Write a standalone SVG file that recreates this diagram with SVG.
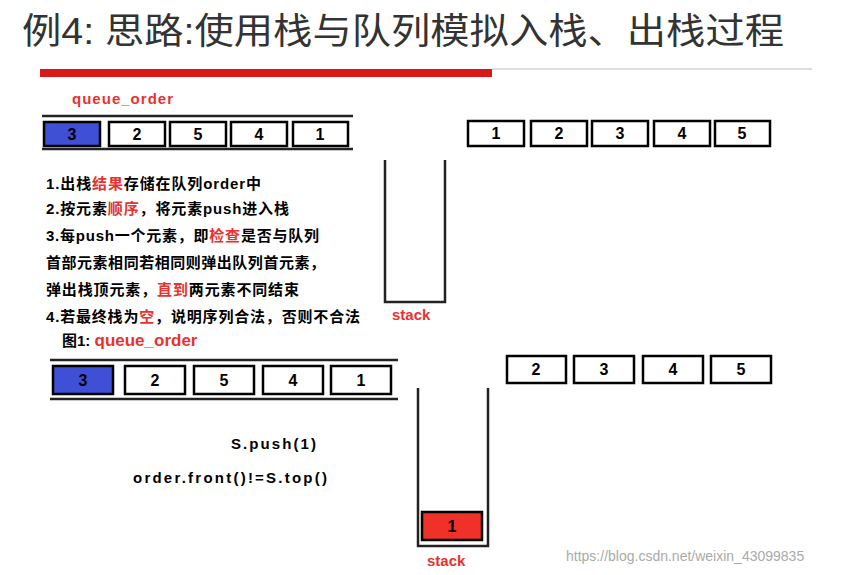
<svg xmlns="http://www.w3.org/2000/svg" width="852" height="575" viewBox="0 0 852 575">
<style>
.b{fill:#fff;stroke:#000;stroke-width:2.5}
.bl{fill:#3f4fd6;stroke:#000;stroke-width:2.5}
.rd{fill:#f0312a;stroke:#000;stroke-width:2.5}
.n{font-family:"Liberation Sans","Noto Sans CJK SC",sans-serif;font-weight:bold;font-size:16px;text-anchor:middle}
.t{font-family:"Liberation Sans","Noto Sans CJK SC",sans-serif;font-weight:bold;font-size:15px}
.r{fill:#e8322f}
.ln{stroke:#222;stroke-width:2.5;fill:none}
</style>
<rect width="852" height="575" fill="#fff"/>
<text x="22" y="44" font-family="Liberation Sans,Noto Sans CJK SC,sans-serif" font-size="36" fill="#333" textLength="762" lengthAdjust="spacingAndGlyphs">例4: 思路:使用栈与队列模拟入栈、出栈过程</text>
<rect x="40" y="69" width="452" height="8" fill="#d9181a"/>
<line x1="492" y1="69" x2="812" y2="69" stroke="#bbb" stroke-width="1"/>
<text x="72" y="104" class="t r" textLength="101">queue_order</text>
<g id="queue1">
<line class="ln" x1="42" y1="116" x2="353" y2="116"/><line class="ln" x1="42" y1="149" x2="353" y2="149"/>
<rect class="bl" x="44" y="122" width="56" height="24"/><text class="n" x="72" y="140">3</text>
<rect class="b" x="109" y="122" width="56" height="24"/><text class="n" x="137" y="140">2</text>
<rect class="b" x="170" y="122" width="56" height="24"/><text class="n" x="198" y="140">5</text>
<rect class="b" x="231" y="122" width="56" height="24"/><text class="n" x="259" y="140">4</text>
<rect class="b" x="293" y="122" width="55" height="24"/><text class="n" x="320" y="140">1</text>
</g>
<g id="stack1"><path class="ln" d="M385 160V302H445V160"/><text class="t r" x="392" y="320">stack</text></g>
<g id="input1">
<rect class="b" x="468" y="121" width="56" height="25"/><text class="n" x="496" y="139">1</text>
<rect class="b" x="531" y="121" width="56" height="25"/><text class="n" x="559" y="139">2</text>
<rect class="b" x="592" y="121" width="56" height="25"/><text class="n" x="620" y="139">3</text>
<rect class="b" x="654" y="121" width="56" height="25"/><text class="n" x="682" y="139">4</text>
<rect class="b" x="715" y="121" width="55" height="25"/><text class="n" x="742" y="139">5</text>
</g>
<g id="notes" class="t" font-size="16">
<text x="46" y="189" textLength="215">1.出栈<tspan class="r">结果</tspan>存储在队列order中</text>
<text x="46" y="214" textLength="243">2.按元素<tspan class="r">顺序</tspan>，将元素push进入栈</text>
<text x="46" y="241" textLength="273">3.每push一个元素，即<tspan class="r">检查</tspan>是否与队列</text>
<text x="46" y="268" textLength="279">首部元素相同若相同则弹出队列首元素，</text>
<text x="46" y="295" textLength="253">弹出栈顶元素，<tspan class="r">直到</tspan>两元素不同结束</text>
<text x="46" y="322" textLength="314">4.若最终栈为<tspan class="r">空</tspan>，说明序列合法，否则不合法</text>
</g>
<text class="t" x="62" y="346">图1: <tspan class="r" font-size="17">queue_order</tspan></text>
<g id="queue2">
<line class="ln" x1="50" y1="360" x2="398" y2="360"/><line class="ln" x1="50" y1="399" x2="398" y2="399"/>
<rect class="bl" x="53" y="366" width="60" height="28"/><text class="n" x="83" y="386">3</text>
<rect class="b" x="125" y="366" width="60" height="28"/><text class="n" x="155" y="386">2</text>
<rect class="b" x="194" y="366" width="60" height="28"/><text class="n" x="224" y="386">5</text>
<rect class="b" x="263" y="366" width="60" height="28"/><text class="n" x="293" y="386">4</text>
<rect class="b" x="331" y="366" width="60" height="28"/><text class="n" x="361" y="386">1</text>
</g>
<g id="stack2"><path class="ln" d="M418 388V546H488V388"/>
<rect class="rd" x="422" y="512" width="60" height="28"/><text class="n" x="452" y="532">1</text>
<text class="t r" x="427" y="566" font-size="17">stack</text></g>
<g id="input2">
<rect class="b" x="507" y="356" width="59" height="27"/><text class="n" x="536" y="375">2</text>
<rect class="b" x="574" y="356" width="60" height="27"/><text class="n" x="604" y="375">3</text>
<rect class="b" x="643" y="356" width="60" height="27"/><text class="n" x="673" y="375">4</text>
<rect class="b" x="711" y="356" width="60" height="27"/><text class="n" x="741" y="375">5</text>
</g>
<text class="t" x="231" y="449" font-size="18" textLength="85">S.push(1)</text>
<text class="t" x="133" y="483" font-size="18" textLength="194">order.front()!=S.top()</text>
<text x="566" y="561" font-family="Liberation Sans,sans-serif" font-size="14" fill="#aaa">https://blog.csdn.net/weixin_43099835</text>
</svg>
